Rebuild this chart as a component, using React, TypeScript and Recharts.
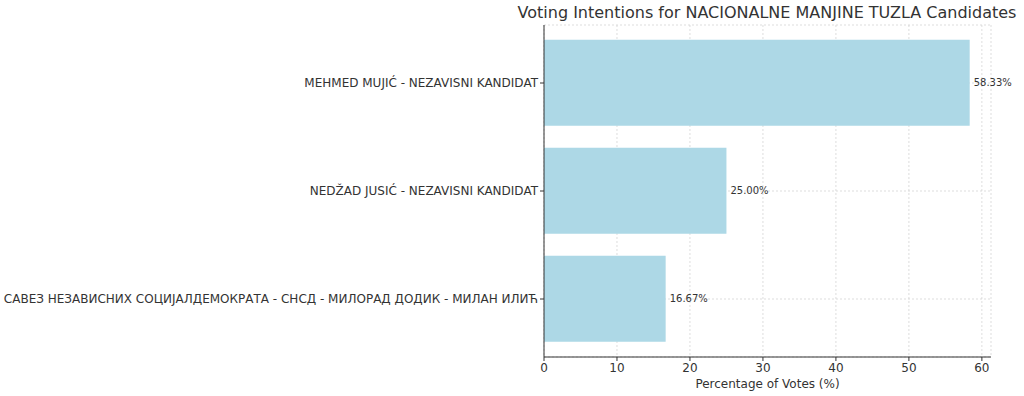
import React from "react";
import {
  BarChart,
  Bar,
  XAxis,
  YAxis,
  CartesianGrid,
  LabelList,
} from "recharts";

const candidates = [
  "MEHMED MUJIĆ - NEZAVISNI KANDIDAT",
  "NEDŽAD JUSIĆ - NEZAVISNI KANDIDAT",
  "САВЕЗ НЕЗАВИСНИХ СОЦИЈАЛДЕМОКРАТА - СНСД - МИЛОРАД ДОДИК - МИЛАН ИЛИЋ",
];
const votePercents = [58.33, 25.0, 16.67];
const xTicks = [0, 10, 20, 30, 40, 50, 60];

const data = candidates.map((name, i) => ({ name, pct: votePercents[i] }));

const font = "'DejaVu Sans', sans-serif";

// single-line category label (the default tick wraps long names)
const NameTick = (props: any) => {
  const { x, y, payload } = props;
  return (
    <text
      x={x}
      y={y}
      dy="0.35em"
      textAnchor="end"
      fill="#333"
      fontSize={12}
      fontFamily={font}
    >
      {payload.value}
    </text>
  );
};

export default function App() {
  return (
    <div
      style={{
        position: "absolute",
        left: 0,
        top: 0,
        width: 1024,
        height: 396,
        background: "#fff",
        fontFamily: font,
      }}
    >
      <div
        style={{
          position: "absolute",
          left: 767,
          top: 3,
          transform: "translateX(-50%)",
          fontSize: 16,
          color: "#333",
          whiteSpace: "nowrap",
        }}
      >
        Voting Intentions for NACIONALNE MANJINE TUZLA Candidates
      </div>
      <BarChart
        width={1024}
        height={396}
        data={data}
        layout="vertical"
        margin={{ top: 25, right: 33, left: 0, bottom: 0 }}
        barCategoryGap="10%"
      >
        <CartesianGrid stroke="#d4d4d4" strokeDasharray="2 2" strokeWidth={0.8} />
        <XAxis
          type="number"
          domain={[0, 61.25]}
          ticks={xTicks}
          allowDataOverflow
          height={39}
          tickSize={4}
          tickMargin={2}
          stroke="#333"
          tick={{ fill: "#333", fontSize: 12, fontFamily: font }}
          label={{
            value: "Percentage of Votes (%)",
            position: "insideBottom",
            offset: 8,
            fill: "#333",
            fontSize: 12,
            fontFamily: font,
          }}
        />
        <YAxis
          type="category"
          dataKey="name"
          width={544}
          padding={{ top: 4, bottom: 4 }}
          tickSize={4}
          tickMargin={2}
          stroke="#333"
          tick={<NameTick />}
        />
        <Bar dataKey="pct" fill="#ADD8E6" isAnimationActive={false}>
          <LabelList
            dataKey="pct"
            position="right"
            offset={4}
            formatter={(v: number) => `${v.toFixed(2)}%`}
            style={{ fill: "#333", fontSize: 10, fontFamily: font }}
          />
        </Bar>
      </BarChart>
    </div>
  );
}
